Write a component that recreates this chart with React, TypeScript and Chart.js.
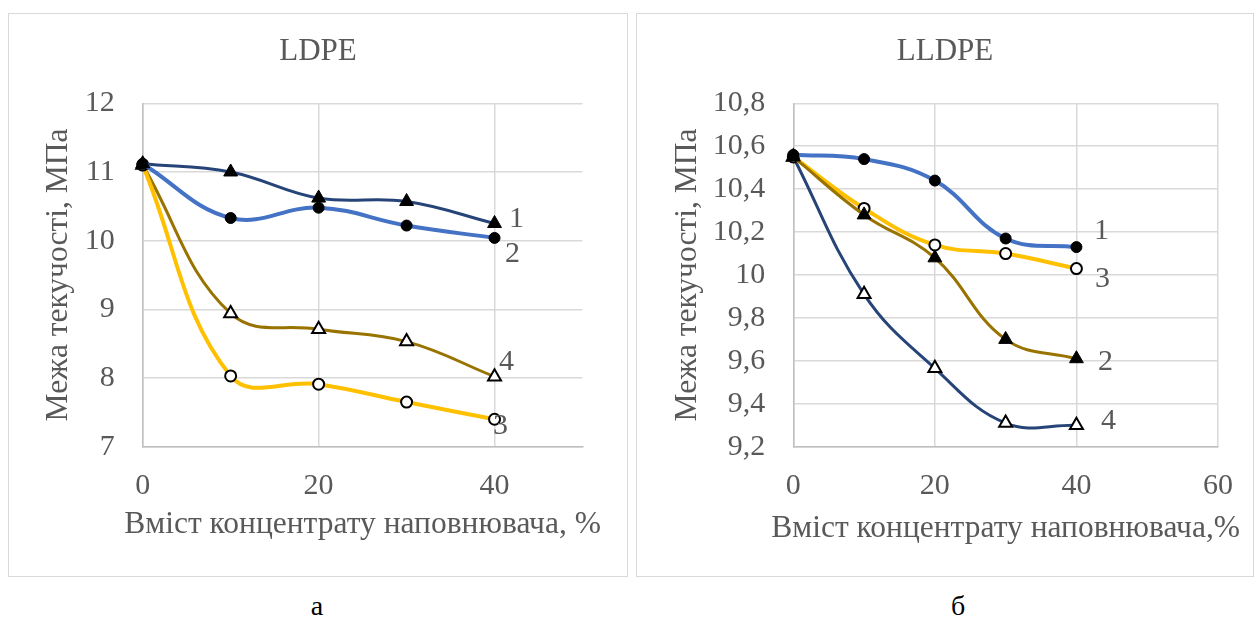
import React, { useEffect, useRef } from "react";
import { Chart, registerables } from "chart.js";

Chart.register(...registerables);

// ---------------- data ----------------
const xValues = [0, 10, 20, 30, 40];

// LDPE (а)
const ldpeSeries1 = [11.12, 11.0, 10.62, 10.57, 10.25];
const ldpeSeries2 = [11.12, 10.33, 10.48, 10.22, 10.04];
const ldpeSeries3 = [11.1, 8.03, 7.91, 7.65, 7.4];
const ldpeSeries4 = [11.1, 8.94, 8.71, 8.53, 8.02];
const ldpeXTicks = [0, 20, 40];
const ldpeYTicks = [7, 8, 9, 10, 11, 12];
const ldpeYTickLabels = ["7", "8", "9", "10", "11", "12"];

// LLDPE (б)
const lldpeSeries1 = [10.56, 10.54, 10.44, 10.17, 10.13];
const lldpeSeries2 = [10.55, 10.28, 10.08, 9.7, 9.61];
const lldpeSeries3 = [10.55, 10.31, 10.14, 10.1, 10.03];
const lldpeSeries4 = [10.55, 9.91, 9.565, 9.31, 9.3];
const lldpeXTicks = [0, 20, 40, 60];
const lldpeYTicks = [9.2, 9.4, 9.6, 9.8, 10, 10.2, 10.4, 10.6, 10.8];
const lldpeYTickLabels = ["9,2", "9,4", "9,6", "9,8", "10", "10,2", "10,4", "10,6", "10,8"];

const seriesNames = ["1", "2", "3", "4"];

// ---------------- styles ----------------
const FONT = "'Liberation Serif', 'Times New Roman', serif";
const TEXT = "#595959";
const GRID = "#d9d9d9";
const NAVY = "#264478";
const BLUE = "#4472C4";
const GOLD = "#FFC000";
const OLIVE = "#997300";

type SeriesStyle = {
  color: string;
  width: number;
  marker: "circle" | "triangle";
  filled: boolean;
  radius: number;
};

const endLabelPlugin = {
  id: "endLabels",
  afterDatasetsDraw(chart: any, _args: any, opts: any) {
    const ctx = chart.ctx;
    ctx.save();
    ctx.font = `${opts.size}px ${FONT}`;
    ctx.fillStyle = TEXT;
    ctx.textAlign = "center";
    ctx.textBaseline = "middle";
    chart.data.datasets.forEach((ds: any, i: number) => {
      const meta = chart.getDatasetMeta(i);
      const last = meta.data[meta.data.length - 1];
      const off = opts.offsets[i] || [0, 0];
      ctx.fillText(ds.label, last.x + off[0], last.y + off[1]);
    });
    ctx.restore();
  },
};

// x-axis title drawn without Chart.js's maxWidth squeezing
const xTitlePlugin = {
  id: "xTitle",
  afterDraw(chart: any, _args: any, opts: any) {
    const ctx = chart.ctx;
    const area = chart.chartArea;
    ctx.save();
    ctx.font = `${opts.size}px ${FONT}`;
    ctx.fillStyle = TEXT;
    ctx.textAlign = "center";
    ctx.textBaseline = "alphabetic";
    ctx.fillText(opts.text, (area.left + area.right) / 2, opts.baseline);
    ctx.restore();
  },
};

function buildConfig(p: any) {
  const datasets = p.series.map((vals: number[], i: number) => {
    const st: SeriesStyle = p.styles[i];
    return {
      label: p.names[i],
      data: xValues.map((x, k) => ({ x, y: vals[k] })),
      borderColor: st.color,
      borderWidth: st.width,
      tension: 0.4,
      fill: false,
      clip: false,
      pointStyle: st.marker,
      pointRadius: st.radius,
      pointBackgroundColor: st.filled ? "#000000" : "#ffffff",
      pointBorderColor: "#000000",
      pointBorderWidth: st.filled ? 1 : 2,
    };
  });
  return {
    type: "line",
    data: { datasets },
    plugins: [endLabelPlugin, xTitlePlugin],
    options: {
      animation: false,
      responsive: false,
      maintainAspectRatio: false,
      layout: { padding: 0 },
      events: [],
      plugins: {
        legend: { display: false },
        tooltip: { enabled: false },
        title: {
          display: true,
          text: p.title,
          color: TEXT,
          font: { family: FONT, size: 31, weight: "normal", lineHeight: 1.2 },
          padding: { top: 20, bottom: p.titleBottom },
        },
        endLabels: { size: 30, offsets: p.labelOffsets },
        xTitle: { text: p.xTitle, size: 31.5, baseline: p.xTitleBaseline },
      },
      scales: {
        x: {
          type: "linear",
          min: 0,
          max: p.xMax,
          afterBuildTicks: (s: any) => {
            s.ticks = p.xTicks.map((v: number) => ({ value: v }));
          },
          afterFit: (s: any) => {
            s.height = p.xAxisHeight;
          },
          ticks: {
            color: TEXT,
            font: { family: FONT, size: 30 },
            padding: 21,
            maxRotation: 0,
            callback: (v: any) => String(v),
          },
          grid: { color: GRID, lineWidth: 1.5, drawTicks: false },
          border: { color: "#bfbfbf", width: 1.5 },
          title: { display: false },
        },
        y: {
          type: "linear",
          min: p.yTicks[0],
          max: p.yTicks[p.yTicks.length - 1],
          afterBuildTicks: (s: any) => {
            s.ticks = p.yTicks.map((v: number) => ({ value: v }));
          },
          afterFit: (s: any) => {
            s.width = p.yAxisWidth;
          },
          ticks: {
            color: TEXT,
            font: { family: FONT, size: 30 },
            padding: 28,
            callback: (_v: any, idx: number) => p.yTickLabels[idx],
          },
          grid: { color: GRID, lineWidth: 1.5, drawTicks: false },
          border: { color: "#bfbfbf", width: 1.5 },
          title: {
            display: true,
            text: "Межа текучості, МПа",
            color: TEXT,
            font: { family: FONT, size: 31.5, lineHeight: 1.2 },
            padding: { top: p.yTitleTop, bottom: 0 },
          },
        },
        pad: {
          type: "linear",
          position: "right",
          display: true,
          grid: { display: false },
          ticks: { display: false },
          border: { display: false },
          afterFit: (s: any) => {
            s.width = p.rightPad;
          },
        },
      },
    },
  };
}

function ChartBox(props: { left: number; top: number; width: number; height: number; config: any }) {
  const ref = useRef<HTMLCanvasElement | null>(null);
  useEffect(() => {
    if (!ref.current) return;
    const chart = new Chart(ref.current, props.config);
    return () => chart.destroy();
  }, []);
  const { left, top, width, height } = props;
  return (
    <>
      <canvas
        ref={ref}
        width={width}
        height={height}
        style={{ position: "absolute", left, top, width, height }}
      />
      <div
        style={{
          position: "absolute",
          left,
          top,
          width,
          height,
          border: "1px solid #d9d9d9",
          boxSizing: "border-box",
          pointerEvents: "none",
        }}
      />
    </>
  );
}

const ldpeConfig = buildConfig({
  title: "LDPE",
  names: seriesNames,
  series: [ldpeSeries1, ldpeSeries2, ldpeSeries3, ldpeSeries4],
  styles: [
    { color: NAVY, width: 3, marker: "triangle", filled: true, radius: 8 },
    { color: BLUE, width: 4, marker: "circle", filled: true, radius: 5.5 },
    { color: GOLD, width: 4, marker: "circle", filled: false, radius: 5.5 },
    { color: OLIVE, width: 3, marker: "triangle", filled: false, radius: 7.5 },
  ],
  labelOffsets: [
    [22, -4],
    [18, 16],
    [6, 7],
    [12, -15],
  ],
  xMax: 50,
  xTicks: ldpeXTicks,
  yTicks: ldpeYTicks,
  yTickLabels: ldpeYTickLabels,
  xTitle: "Вміст концентрату наповнювача, %",
  xTitleBaseline: 520,
  titleBottom: 33.1,
  xAxisHeight: 130.3,
  yAxisWidth: 134.7,
  yTitleTop: 32.1,
  rightPad: 45.5,
});

const lldpeConfig = buildConfig({
  title: "LLDPE",
  names: seriesNames,
  series: [lldpeSeries1, lldpeSeries2, lldpeSeries3, lldpeSeries4],
  styles: [
    { color: BLUE, width: 4, marker: "circle", filled: true, radius: 5.5 },
    { color: OLIVE, width: 3, marker: "triangle", filled: true, radius: 8 },
    { color: GOLD, width: 4, marker: "circle", filled: false, radius: 5.5 },
    { color: NAVY, width: 3, marker: "triangle", filled: false, radius: 7.5 },
  ],
  labelOffsets: [
    [25, -16],
    [29, 3],
    [26, 11],
    [32, -4],
  ],
  xMax: 60,
  xTicks: lldpeXTicks,
  yTicks: lldpeYTicks,
  yTickLabels: lldpeYTickLabels,
  xTitle: "Вміст концентрату наповнювача,%",
  xTitleBaseline: 523.5,
  titleBottom: 33.1,
  xAxisHeight: 130.3,
  yAxisWidth: 157.3,
  yTitleTop: 33.1,
  rightPad: 33,
});

export default function App() {
  return (
    <div style={{ position: "absolute", left: 0, top: 0, width: 1256, height: 621, background: "#fff", overflow: "hidden" }}>
      <ChartBox left={8} top={13} width={620} height={564} config={ldpeConfig} />
      <ChartBox left={636} top={13} width={618} height={564} config={lldpeConfig} />
      <div style={{ position: "absolute", left: 217, top: 589, width: 200, textAlign: "center", fontFamily: FONT, fontSize: 28, lineHeight: "34px", color: "#000" }}>
        а
      </div>
      <div style={{ position: "absolute", left: 858, top: 589, width: 200, textAlign: "center", fontFamily: FONT, fontSize: 28, lineHeight: "34px", color: "#000" }}>
        б
      </div>
    </div>
  );
}
